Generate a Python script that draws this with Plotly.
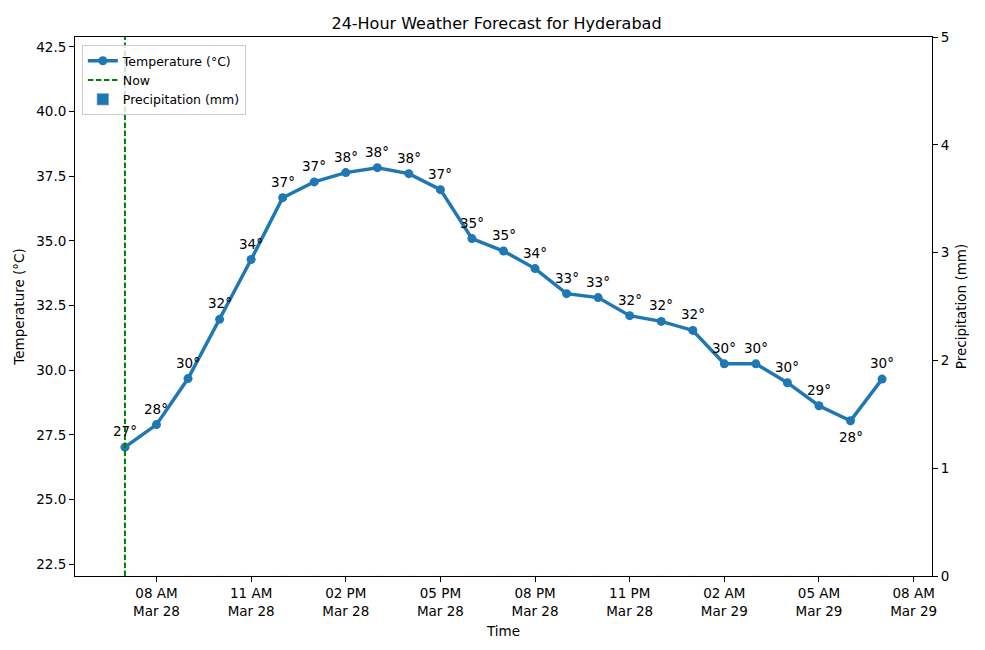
import pandas as pd
import plotly.graph_objects as go

# hourly forecast, Hyderabad
times = pd.date_range("2025-03-28 07:00", periods=25, freq="h")
temps = [27.03, 27.90, 29.68, 31.97, 34.28, 36.67, 37.28, 37.64, 37.83, 37.60,
         36.98, 35.09, 34.61, 33.93, 32.96, 32.81, 32.11, 31.89, 31.54, 30.25,
         30.25, 29.52, 28.63, 28.05, 29.66]
precip = [0.0] * 25
now = pd.Timestamp("2025-03-28 07:00")

tick_times = pd.date_range("2025-03-28 08:00", periods=9, freq="3h")
tick_labels = [t.strftime("%I %p<br>%b %d") for t in tick_times]

blue = "#1f77b4"
font = "DejaVu Sans"

fig = go.Figure()

fig.add_trace(go.Bar(
    x=times, y=precip, name="Precipitation (mm)", yaxis="y2",
    marker=dict(color=blue, opacity=0.7), legendrank=3,
))
fig.add_trace(go.Scatter(
    x=times, y=temps, mode="lines+markers", name="Temperature (°C)",
    line=dict(color=blue, width=3.5), marker=dict(size=9, color=blue),
    legendrank=1,
))

fig.add_shape(
    type="line", x0=now, x1=now, xref="x", yref="paper", y0=0, y1=1,
    line=dict(color="green", width=2, dash="5.5px,2.5px"),
    showlegend=True, name="Now", legendrank=2,
)

# temperature labels, below the point at a local minimum
for i, (t, v) in enumerate(zip(times, temps)):
    below = 0 < i < len(temps) - 1 and v < temps[i - 1] and v < temps[i + 1]
    fig.add_annotation(
        x=t, y=v, text=f"{round(v)}°", showarrow=False,
        yshift=-16 if below else 16,
        font=dict(family=font, size=13.5, color="black"),
    )

axis_common = dict(
    showgrid=False, zeroline=False, showline=True, linecolor="black",
    linewidth=1, ticks="outside", ticklen=5, tickcolor="black",
    tickfont=dict(family=font, size=13.5, color="black"),
    title_font=dict(family=font, size=13.5, color="black"),
)

fig.update_layout(
    width=977, height=642,
    margin=dict(l=67, r=53, t=29, b=74),
    plot_bgcolor="white", paper_bgcolor="white",
    title=dict(text="24-Hour Weather Forecast for Hyderabad", x=0.5, xanchor="center",
               y=1 - 15 / 642, yanchor="middle", yref="container",
               font=dict(family=font, size=16, color="black")),
    xaxis=dict(
        range=[pd.Timestamp("2025-03-28 05:25"), pd.Timestamp("2025-03-29 08:35")],
        tickvals=tick_times, ticktext=tick_labels, mirror=True,
        title=dict(text="Time", standoff=8), **axis_common,
    ),
    yaxis=dict(
        range=[22.05, 42.88], tick0=22.5, dtick=2.5, tickformat=".1f",
        title=dict(text="Temperature (°C)", standoff=8), **axis_common,
    ),
    yaxis2=dict(
        range=[0, 5], dtick=1, overlaying="y", side="right",
        title=dict(text="Precipitation (mm)", standoff=8), **axis_common,
    ),
    legend=dict(
        x=0.008, y=0.985, xanchor="left", yanchor="top",
        bgcolor="rgba(255,255,255,0.8)", bordercolor="#cccccc", borderwidth=1,
        font=dict(family=font, size=12.5, color="black"),
        tracegroupgap=0, itemwidth=30,
    ),
    bargap=0.7,
    showlegend=True,
)

fig.write_html("out.html")
